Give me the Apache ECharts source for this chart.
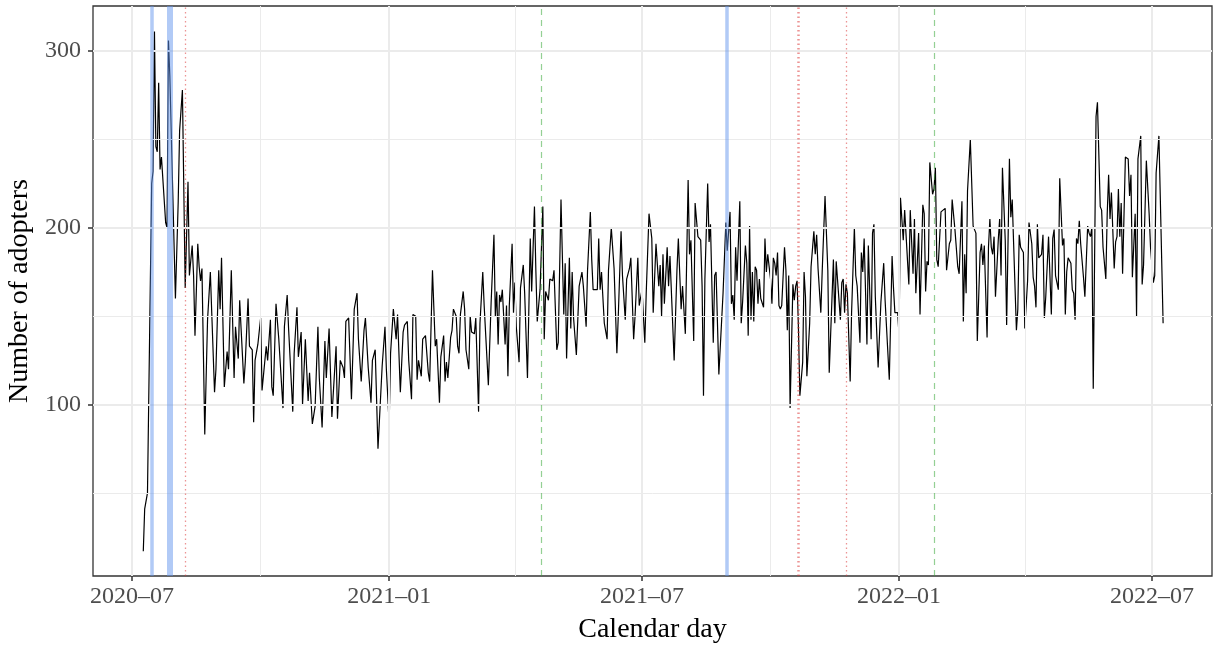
<!DOCTYPE html>
<html>
<head>
<meta charset="utf-8">
<script src="https://cdn.jsdelivr.net/npm/echarts@6/dist/echarts.min.js"></script>
<style>
  html, body { margin: 0; padding: 0; background: #fff; }
  #chart { width: 1214px; height: 645px; }
</style>
</head>
<body>
<div id="chart"></div>
<script>
// days after 2020-07-09 and the number of adopters on that day
var dayOffset = [
  0, 1, 3, 6, 7, 8, 9, 10, 11, 12, 13, 14, 16, 17, 18, 19, 20, 23, 25, 26, 28, 30, 32, 33, 35, 36, 37, 39, 40, 41, 42, 44, 46, 48, 49,
  51, 52, 54, 55, 56, 58, 60, 61, 63, 65, 66, 68, 69, 70, 72, 73, 75, 76, 78, 79, 80, 82, 84, 85, 86, 88, 89, 91, 92, 93, 95, 97,
  100, 101, 103, 104, 107, 108, 110, 111, 113, 114, 116, 118, 119, 121, 123, 125, 126, 128, 130, 131, 133, 135, 138, 139, 141, 143, 144, 145, 147, 149,
  151, 153, 154, 156, 158, 159, 161, 163, 164, 166, 168, 171, 173, 174, 176, 177, 179, 181, 182, 184, 186, 187, 189, 190, 192, 193, 195, 196, 197, 199,
  200, 202, 203, 204, 205, 207, 209, 210, 212, 213, 215, 216, 217, 218, 220, 221, 222, 224, 225, 226, 227, 229, 230, 231, 233, 234, 235, 237, 238, 240, 241, 243, 244, 245, 247, 249,
  251, 252, 253, 254, 255, 256, 257, 259, 260, 261, 262, 264, 265, 266, 267, 269, 270, 272, 273, 275, 277, 278, 280, 281, 282, 284, 286, 287, 288, 290, 291, 293, 294, 296, 297, 299,
  301, 302, 303, 305, 306, 307, 308, 310, 312, 314, 315, 317, 318, 320, 321, 322, 323, 325, 326, 327, 328, 330, 332, 333, 335, 337, 339, 340, 342, 343, 345, 346, 348, 349,
  351, 352, 354, 355, 357, 359, 360, 362, 364, 365, 367, 369, 370, 371, 372, 373, 375, 376, 377, 380, 382, 383, 385, 386, 388, 390, 391, 392, 394, 395, 397, 399,
  400, 401, 402, 404, 405, 406, 408, 409, 410, 412, 415, 417, 418, 420, 421, 422, 423, 424, 425, 427, 428, 429, 431, 432, 433, 434, 435, 436, 437, 438, 439, 440, 441, 442, 444, 445, 446, 447, 449,
  450, 451, 452, 453, 454, 455, 456, 457, 459, 460, 461, 462, 463, 465, 466, 467, 468, 469, 470, 472, 473, 474, 475, 477, 478, 480, 481, 482, 483, 485, 486, 488, 490, 491, 494, 495, 496, 497, 499,
  500, 501, 502, 503, 504, 506, 507, 509, 510, 511, 513, 514, 515, 516, 518, 519, 521, 522, 523, 524, 526, 528, 530, 531, 534, 536, 537, 538, 540, 541, 542, 544, 545, 546, 547, 548, 549,
  550, 551, 552, 553, 555, 556, 558, 559, 560, 561, 562, 563, 565, 566, 567, 568, 569, 571, 572, 574, 575, 577, 578, 579, 581, 582, 583, 584, 586, 587, 588, 589, 590, 592, 594, 596, 597, 599,
  600, 601, 602, 604, 605, 606, 607, 608, 609, 610, 612, 613, 614, 615, 617, 618, 620, 621, 622, 623, 625, 626, 627, 628, 630, 631, 633, 634, 636, 637, 638, 639, 640, 641, 643, 644, 645, 646, 648, 649,
  650, 651, 652, 653, 654, 655, 656, 658, 659, 660, 661, 662, 664, 665, 666, 667, 668, 669, 670, 671, 673, 674, 676, 677, 678, 679, 680, 682, 683, 685, 686, 687, 689, 690, 691, 692, 693, 695, 696, 697, 698, 699,
  700, 701, 703, 705, 706, 707, 708, 710, 711, 712, 714, 715, 716, 718, 720, 721, 723, 724, 725, 726, 727, 730
];
var adopters = [
  17, 41, 50, 225, 232, 311, 246, 243, 282, 233, 240, 241, 203, 200, 306, 286, 285, 160, 215, 255, 278, 166, 226, 173, 190, 173, 139, 191, 178, 170, 177, 83, 148, 175, 152,
  107, 120, 176, 154, 183, 110, 130, 120, 176, 115, 144, 126, 159, 143, 112, 124, 160, 133, 131, 90, 125, 134, 149, 108, 108, 133, 125, 148, 110, 105, 157, 137,
  98, 144, 162, 143, 96, 129, 155, 127, 141, 100, 137, 102, 118, 89, 99, 144, 115, 87, 136, 115, 143, 93, 133, 92, 125, 121, 115, 147, 149, 103,
  154, 163, 137, 113, 142, 149, 121, 101, 125, 131, 75, 122, 144, 120, 89, 129, 154, 137, 151, 107, 141, 145, 147, 125, 103, 151, 150, 114, 125, 116,
  137, 139, 138, 118, 113, 176, 133, 137, 101, 127, 139, 113, 124, 115, 138, 142, 154, 150, 133, 129, 151, 164, 154, 131, 120, 150, 141, 140, 149, 96, 146, 175, 156, 156, 111, 158,
  196, 150, 164, 134, 162, 158, 165, 134, 156, 116, 156, 191, 152, 169, 144, 124, 166, 179, 163, 115, 194, 164, 212, 176, 147, 165, 212, 137, 164, 159, 171, 170, 176, 131, 135, 216,
  151, 180, 126, 183, 143, 175, 149, 128, 167, 175, 167, 144, 176, 209, 182, 165, 166, 165, 194, 165, 175, 146, 137, 176, 200, 177, 129, 150, 198, 173, 148, 171, 177, 183,
  137, 150, 183, 156, 165, 135, 163, 208, 194, 152, 191, 167, 179, 150, 185, 157, 189, 167, 184, 125, 176, 194, 154, 167, 140, 227, 185, 193, 136, 214, 195, 193,
  167, 105, 171, 225, 192, 202, 135, 173, 175, 117, 163, 203, 187, 209, 157, 162, 148, 189, 170, 215, 146, 158, 190, 180, 139, 201, 148, 175, 147, 178, 176, 157, 171, 160, 155, 194, 175, 185, 171,
  157, 183, 180, 173, 186, 156, 154, 156, 189, 176, 142, 173, 98, 168, 159, 167, 170, 142, 105, 124, 175, 161, 116, 146, 178, 198, 185, 196, 177, 152, 176, 218, 176, 118, 182, 146, 181, 180, 148,
  169, 171, 152, 168, 163, 113, 152, 200, 173, 167, 135, 186, 175, 194, 134, 190, 137, 197, 202, 161, 121, 158, 180, 159, 114, 184, 166, 152, 152, 139, 217, 193, 210, 196, 195, 168, 210,
  209, 174, 205, 163, 197, 151, 213, 208, 164, 181, 179, 237, 219, 222, 234, 182, 178, 209, 210, 211, 176, 191, 193, 216, 199, 198, 178, 174, 215, 147, 185, 163, 221, 250, 201, 197, 136, 186,
  191, 179, 190, 138, 189, 205, 189, 185, 195, 161, 193, 205, 173, 234, 193, 145, 239, 206, 216, 191, 142, 154, 196, 189, 186, 143, 170, 203, 191, 172, 167, 155, 202, 183, 185, 196, 149, 161, 195, 196,
  151, 194, 199, 173, 169, 165, 228, 190, 194, 151, 175, 183, 180, 165, 163, 148, 194, 191, 204, 191, 172, 161, 201, 197, 195, 200, 109, 263, 271, 212, 210, 189, 171, 208, 230, 205, 220, 177, 192, 195, 222, 195,
  214, 174, 240, 239, 218, 230, 172, 208, 150, 239, 252, 168, 179, 238, 208, 189, 169, 173, 231, 232, 252, 146
];

var tickDates = ['2020-07-01', '2021-01-01', '2021-07-01', '2022-01-01', '2022-07-01'];
var tickLabels = ['2020\u201307', '2021\u201301', '2021\u201307', '2022\u201301', '2022\u201307'];
var yTicks = [100, 200, 300];
var yMinor = [50, 150, 250];

var blueDates = ['2020-07-15', '2020-07-28', '2021-08-31'];
var redDates = ['2020-08-08', '2021-10-21', '2021-11-24'];
var greenDates = ['2021-04-20', '2022-01-26'];

function ts(s) {
  var p = s.split('-').map(Number);
  return new Date(p[0], p[1] - 1, p[2]).getTime();
}

var seriesData = dayOffset.map(function (d, i) {
  return [new Date(2020, 6, 9 + d).getTime(), adopters[i]];
});
var tickTimes = tickDates.map(ts);
var minorTimes = [];
for (var i = 0; i < tickTimes.length - 1; i++) {
  minorTimes.push((tickTimes[i] + tickTimes[i + 1]) / 2);
}

var serif = 'Liberation Serif';
var gridColor = '#ebebeb';

var gridLines = []
  .concat(tickTimes.map(function (t) { return { xAxis: t, lineStyle: { color: gridColor, width: 2, type: 'solid' } }; }))
  .concat(minorTimes.map(function (t) { return { xAxis: t, lineStyle: { color: gridColor, width: 1, type: 'solid' } }; }))
  .concat(yTicks.map(function (v) { return { yAxis: v, lineStyle: { color: gridColor, width: 2, type: 'solid' } }; }))
  .concat(yMinor.map(function (v) { return { yAxis: v, lineStyle: { color: gridColor, width: 1, type: 'solid' } }; }));

var eventLines = []
  .concat(blueDates.map(function (d, i) {
    return { xAxis: ts(d), lineStyle: { color: 'rgba(100,149,237,0.5)', width: i === 1 ? 6 : 3.5, type: 'solid' } };
  }))
  .concat(redDates.map(function (d, i) {
    return { xAxis: ts(d), lineStyle: { color: 'rgba(220,60,60,0.55)', width: i === 1 ? 2.5 : 1.3, type: [1.5, 3] } };
  }))
  .concat(greenDates.map(function (d) {
    return { xAxis: ts(d), lineStyle: { color: 'rgba(60,170,60,0.55)', width: 1.2, type: [6, 5] } };
  }));

var chart = echarts.init(document.getElementById('chart'));
chart.setOption({
  animation: false,
  grid: {
    left: 93, right: 2, top: 6, bottom: 69,
    outerBoundsMode: 'none',
    show: true, borderColor: '#333', borderWidth: 1.3
  },
  xAxis: {
    type: 'value',
    min: new Date(2020, 5, 3).getTime(),
    max: new Date(2022, 7, 13).getTime(),
    axisLine: { show: false },
    splitLine: { show: false },
    axisTick: { show: true, customValues: tickTimes, length: 5, lineStyle: { color: '#333', width: 1.5 } },
    axisLabel: {
      customValues: tickTimes,
      formatter: function (v) {
        var k = tickTimes.indexOf(v);
        return k >= 0 ? tickLabels[k] : '';
      },
      color: '#4d4d4d', fontFamily: serif, fontSize: 24, margin: 9
    },
    name: 'Calendar day',
    nameLocation: 'middle',
    nameGap: 40,
    nameTextStyle: { color: '#000', fontFamily: serif, fontSize: 28 }
  },
  yAxis: {
    type: 'value',
    min: 3,
    max: 325.5,
    axisLine: { show: false },
    splitLine: { show: false },
    axisTick: { show: true, customValues: yTicks, length: 5, lineStyle: { color: '#333', width: 1.5 } },
    axisLabel: { customValues: yTicks, color: '#4d4d4d', fontFamily: serif, fontSize: 24, margin: 12 },
    name: 'Number of adopters',
    nameLocation: 'middle',
    nameGap: 56,
    nameTextStyle: { color: '#000', fontFamily: serif, fontSize: 28 }
  },
  series: [
    {
      type: 'line', data: [], z: 1, silent: true,
      markLine: { symbol: 'none', silent: true, label: { show: false }, emphasis: { disabled: true }, data: gridLines }
    },
    {
      type: 'line', data: seriesData, z: 3, showSymbol: false, silent: true,
      lineStyle: { color: '#000', width: 1.2 }
    },
    {
      type: 'line', data: [], z: 4, silent: true,
      markLine: { symbol: 'none', silent: true, label: { show: false }, emphasis: { disabled: true }, data: eventLines }
    }
  ]
});
</script>
</body>
</html>
